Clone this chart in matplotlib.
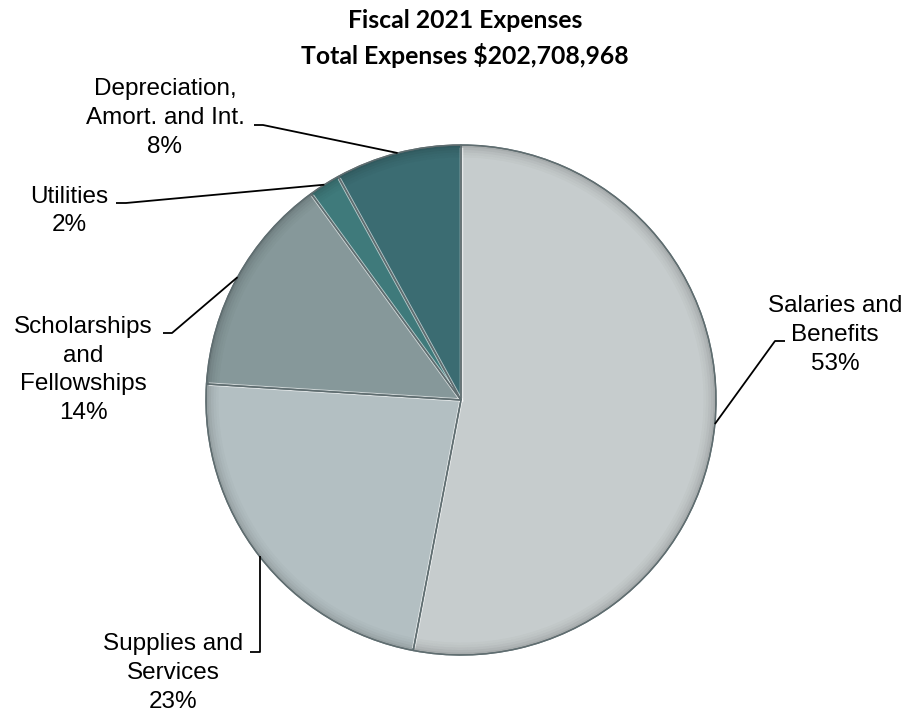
import numpy as np
import matplotlib
matplotlib.use("Agg")
import matplotlib.pyplot as plt
from matplotlib.patches import Wedge

# expense shares, drawn counter-clockwise from 12 o'clock
categories = ["Depreciation,\nAmort. and Int.", "Utilities",
              "Scholarships\nand\nFellowships", "Supplies and\nServices",
              "Salaries and\nBenefits"]
shares = [8, 2, 14, 23, 53]
colors = ["#3b6c72", "#3f7a7b", "#86989a", "#b3bfc2", "#c6cccd"]

title_lines = ["Fiscal 2021 Expenses", "Total Expenses $202,708,968"]

W, H = 911, 715
fig = plt.figure(figsize=(W / 100, H / 100), dpi=100)
ax = fig.add_axes([0, 0, 1, 1])

cx, cy, R = 461, H - 400, 255

wedges, _ = ax.pie(shares, colors=colors, startangle=90, counterclock=True,
                   center=(cx, cy), radius=R, frame=True,
                   wedgeprops=dict(edgecolor="#6d7b7e", linewidth=1.0))

# soft rim shading on each slice, light seam along the radial edges
for w in wedges:
    for k, a in enumerate([0.16, 0.11, 0.07, 0.04, 0.02]):
        ax.add_patch(Wedge((cx, cy), R - k * 2.5, w.theta1, w.theta2,
                           width=2.5, facecolor="black", alpha=a, linewidth=0))
    for t in (w.theta1, w.theta2):
        ang = np.deg2rad(t)
        ax.plot([cx, cx + (R - 4) * np.cos(ang)], [cy, cy + (R - 4) * np.sin(ang)],
                color="white", alpha=0.35, linewidth=2.5, zorder=1.5)
    ax.add_patch(Wedge((cx, cy), R, w.theta1, w.theta2, facecolor="none",
                       edgecolor="#5f6d70", linewidth=1.0, zorder=2))

# label text centres and leader elbows (pixel layout, y from top)
label_xy = [(165, 118), (69, 211), (83, 370), (173, 673), (835, 335)]
elbows = [[(254, 125), (263, 125)],
          [(116, 203), (126, 203)],
          [(163, 333), (172, 333)],
          [(250, 652), (260, 652)],
          [(785, 341), (775, 341)]]

for w, txt, s, (lx, ly), elb in zip(wedges, categories, shares, label_xy, elbows):
    ax.text(lx, H - ly, f"{txt}\n{s}%", ha="center", va="center",
            multialignment="center", fontsize=17.5, family="Liberation Sans",
            linespacing=1.4, color="black")
    mid = np.deg2rad((w.theta1 + w.theta2) / 2)
    ex, ey = cx + R * np.cos(mid), cy + R * np.sin(mid)
    xs = [p[0] for p in elb]
    ys = [H - p[1] for p in elb]
    if txt.startswith("Supplies"):
        # straight up from the elbow to the rim
        xs.append(xs[-1])
    else:
        xs.append(ex)
    ys.append(ey)
    ax.plot(xs, ys, color="black", linewidth=1.3, solid_capstyle="butt", zorder=3)

ax.text(465, H - 20, title_lines[0], ha="center", va="center",
        fontsize=17.8, fontweight="bold", family="Lato")
ax.text(465, H - 55, title_lines[1], ha="center", va="center",
        fontsize=17.8, fontweight="bold", family="Lato")

ax.set_xlim(0, W)
ax.set_ylim(0, H)
ax.set_aspect("equal")
ax.axis("off")

fig.savefig("out.png", dpi=100, facecolor="white")
